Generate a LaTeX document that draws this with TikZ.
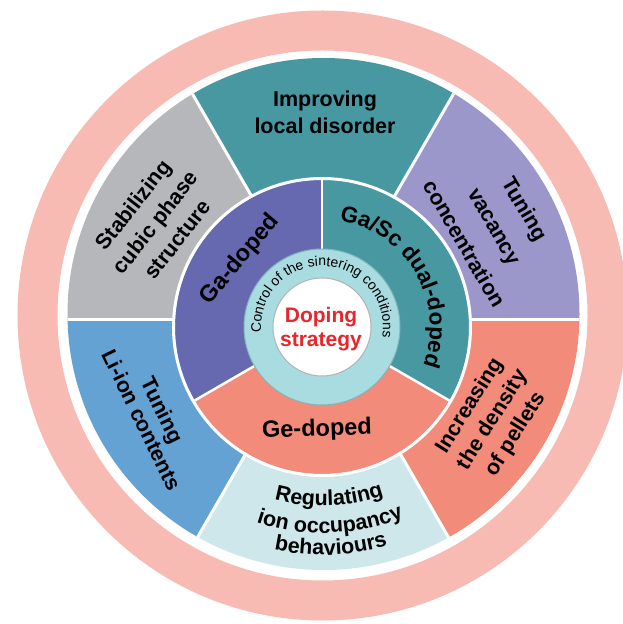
\documentclass[tikz,border=0pt]{standalone}
\usepackage{fontspec}
\setmainfont{Liberation Sans}
\usetikzlibrary{decorations.text}
\definecolor{ringpink}{RGB}{247,187,180}
\definecolor{tealS}{RGB}{72,152,162}
\definecolor{grayS}{RGB}{182,183,186}
\definecolor{lavS}{RGB}{155,151,203}
\definecolor{blueS}{RGB}{101,162,212}
\definecolor{lcyanS}{RGB}{205,231,235}
\definecolor{salmonS}{RGB}{242,139,122}
\definecolor{purpS}{RGB}{103,105,176}
\definecolor{cringS}{RGB}{169,220,224}
\definecolor{cedgeS}{RGB}{130,180,186}
\definecolor{redT}{RGB}{232,38,43}
\tikzset{
  outtxt/.style={font=\bfseries\fontsize{21.5}{27}\selectfont, align=center, text=black, inner sep=0pt},
  midtxt/.style={font=\bfseries\fontsize{23.5}{27}\selectfont, text=black, inner sep=0pt},
  sepline/.style={white, line width=3pt},
}
\begin{document}
\begin{tikzpicture}[x=1pt,y=1pt]
\useasboundingbox (0,0) rectangle (622,624);
\fill[white] (0,0) rectangle (622,624);
\coordinate (P) at (322.5,308.5);
\coordinate (D) at (323.5,310);
\coordinate (S) at (323,304);
\coordinate (I) at (322,297);
% outer pink ring
\draw[ringpink, line width=40pt] (P) circle[radius=285];
% outer sectors
\begin{scope}
  \clip (D) circle[radius=256];
  \foreach \a/\c in {0/lavS,60/tealS,120/grayS,180/blueS,240/lcyanS,300/salmonS}
    \fill[\c] (S) -- ++(\a:400) arc[start angle=\a, end angle=\a+60, radius=400] -- cycle;
  \foreach \a in {0,60,120,180,240,300}
    \draw[sepline] (S) -- ++(\a:400);
\end{scope}
% middle ring
\foreach \a/\c in {90/purpS,210/salmonS,330/tealS}
  \fill[\c] (I) -- ++(\a:147) arc[start angle=\a, end angle=\a+120, radius=147] -- cycle;
\foreach \a in {90,210,330}
  \draw[white, line width=2.5pt] (I) -- ++(\a:147);
\draw[white, line width=3pt] (I) circle[radius=148.5];
% inner rings
\fill[cringS, draw=cedgeS, line width=1pt] (I) circle[radius=78];
\fill[white, draw=gray!60, line width=1pt] (I) circle[radius=49];
% center text
\node[font=\bfseries\fontsize{21}{24}\selectfont, text=redT, align=center, inner sep=0pt] (center) at (321,295) {Doping\\strategy};
\path[decorate, decoration={text along path, text align=center,
  text={|\fontsize{14}{16}\selectfont|Control of the sintering conditions}}]
  ([shift={(205:61)}]I) arc[start angle=205, end angle=-29, radius=61];
% middle ring texts
\node[midtxt, rotate=50] (gadoped) at (240,364) {Ga-doped};
\node[midtxt, rotate=2] (gedoped) at (317,194) {Ge-doped};
\path[decorate, decoration={text along path, text align=center,
  text={|\bfseries\fontsize{22.5}{26}\selectfont|Ga/Sc dual-doped}}]
  ([shift={(100:108)}]I) arc[start angle=100, end angle=-40, radius=108];
% outer texts
\node[outtxt] (improving) at (325,512) {Improving\\local disorder};
\node[outtxt, rotate=52, font=\bfseries\fontsize{21.5}{28}\selectfont] (stab) at (155,402) {Stabilizing\\cubic phase\\structure};
\node[outtxt, rotate=-60, font=\bfseries\fontsize{21.5}{35}\selectfont] (vac) at (495,398) {Tuning\\vacancy\\concentration};
\node[outtxt, rotate=-64, font=\bfseries\fontsize{21.5}{23}\selectfont] (liion) at (152,209) {Tuning\\Li-ion contents};
\node[outtxt, rotate=58] (dens) at (493,204) {Increasing\\the density\\of pellets};
\path[decorate, decoration={text along path, text align=center,
  text={|\bfseries\fontsize{21.5}{26}\selectfont|Regulating}}]
  ([shift={(232:186)}]S) arc[start angle=232, end angle=312, radius=186];
\path[decorate, decoration={text along path, text align=center,
  text={|\bfseries\fontsize{21.5}{26}\selectfont|ion occupancy}}]
  ([shift={(232:213)}]S) arc[start angle=232, end angle=312, radius=213];
\path[decorate, decoration={text along path, text align=center,
  text={|\bfseries\fontsize{21.5}{26}\selectfont|behaviours}}]
  ([shift={(232:235)}]S) arc[start angle=232, end angle=312, radius=235];
\end{tikzpicture}
\end{document}
